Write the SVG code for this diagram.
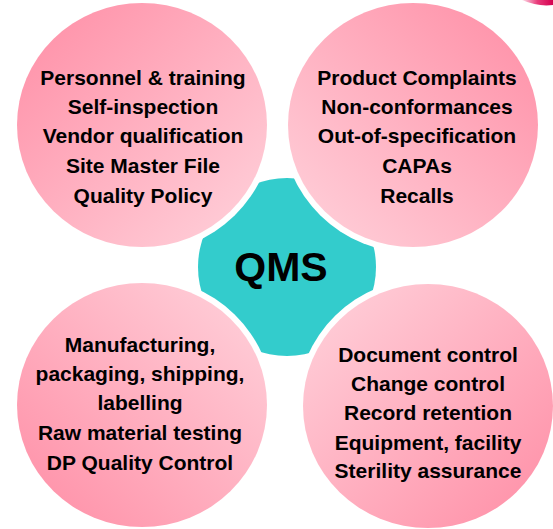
<svg xmlns="http://www.w3.org/2000/svg" width="553" height="529" viewBox="0 0 553 529">
  <defs>
    <!-- pink fills: dark on the outer corner, fading to light toward the hub -->
    <linearGradient id="pinkTL" x1="0" y1="0" x2="1" y2="1">
      <stop offset="0" stop-color="#FF8DA5"/>
      <stop offset="1" stop-color="#FFD3DC"/>
    </linearGradient>
    <linearGradient id="pinkTR" x1="1" y1="0" x2="0" y2="1">
      <stop offset="0" stop-color="#FF8DA5"/>
      <stop offset="1" stop-color="#FFD3DC"/>
    </linearGradient>
    <linearGradient id="pinkBL" x1="0" y1="1" x2="1" y2="0">
      <stop offset="0" stop-color="#FF8DA5"/>
      <stop offset="1" stop-color="#FFD3DC"/>
    </linearGradient>
    <linearGradient id="pinkBR" x1="1" y1="1" x2="0" y2="0">
      <stop offset="0" stop-color="#FF8DA5"/>
      <stop offset="1" stop-color="#FFD3DC"/>
    </linearGradient>
    <linearGradient id="accent" x1="0" y1="0" x2="1" y2="0">
      <stop offset="0" stop-color="#FFE0EA"/>
      <stop offset="0.5" stop-color="#E83A7A"/>
      <stop offset="1" stop-color="#D4004F"/>
    </linearGradient>
  </defs>
  <style>
    .halo { fill: #FFFFFF; }
    .lbl { font-family: "Liberation Sans", Arial, sans-serif; font-weight: bold; font-size: 21px; fill: #000000; text-anchor: middle; }
    .hub { fill: #33CCCC; }
    .hubText { font-family: "Liberation Sans", Arial, sans-serif; font-weight: bold; font-size: 41px; fill: #000000; text-anchor: middle; }
  </style>

  <rect width="553" height="529" fill="#FFFFFF"/>

  <!-- corner accent -->
  <path d="M 522 0 Q 538 7 553 5 L 553 0 Z" fill="url(#accent)"/>

  <!-- central hub -->
  <g id="qms">
    <circle class="hub" cx="287" cy="267" r="89"/>
    <text class="hubText" x="281" y="281">QMS</text>
  </g>

  <g id="general">
    <ellipse class="halo" cx="142" cy="125" rx="131" ry="128"/>
    <ellipse cx="142" cy="125" rx="125" ry="122" fill="url(#pinkTL)"/>
    <text class="lbl" x="143" y="85">Personnel &amp; training</text>
    <text class="lbl" x="143" y="114">Self-inspection</text>
    <text class="lbl" x="143" y="143">Vendor qualification</text>
    <text class="lbl" x="143" y="173">Site Master File</text>
    <text class="lbl" x="143" y="203">Quality Policy</text>
  </g>

  <g id="events">
    <ellipse class="halo" cx="413" cy="125" rx="131" ry="128"/>
    <ellipse cx="413" cy="125" rx="125" ry="122" fill="url(#pinkTR)"/>
    <text class="lbl" x="417" y="85">Product Complaints</text>
    <text class="lbl" x="417" y="114">Non-conformances</text>
    <text class="lbl" x="417" y="143">Out-of-specification</text>
    <text class="lbl" x="417" y="173">CAPAs</text>
    <text class="lbl" x="417" y="203">Recalls</text>
  </g>

  <g id="operations">
    <ellipse class="halo" cx="142" cy="405" rx="131" ry="128"/>
    <ellipse cx="142" cy="405" rx="125" ry="122" fill="url(#pinkBL)"/>
    <text class="lbl" x="140" y="352">Manufacturing,</text>
    <text class="lbl" x="140" y="381">packaging, shipping,</text>
    <text class="lbl" x="140" y="410">labelling</text>
    <text class="lbl" x="140" y="440">Raw material testing</text>
    <text class="lbl" x="140" y="470">DP Quality Control</text>
  </g>

  <g id="records">
    <ellipse class="halo" cx="428" cy="406" rx="131" ry="128"/>
    <ellipse cx="428" cy="406" rx="125" ry="122" fill="url(#pinkBR)"/>
    <text class="lbl" x="428" y="362">Document control</text>
    <text class="lbl" x="428" y="391">Change control</text>
    <text class="lbl" x="428" y="420">Record retention</text>
    <text class="lbl" x="428" y="450">Equipment, facility</text>
    <text class="lbl" x="428" y="478">Sterility assurance</text>
  </g>
</svg>
